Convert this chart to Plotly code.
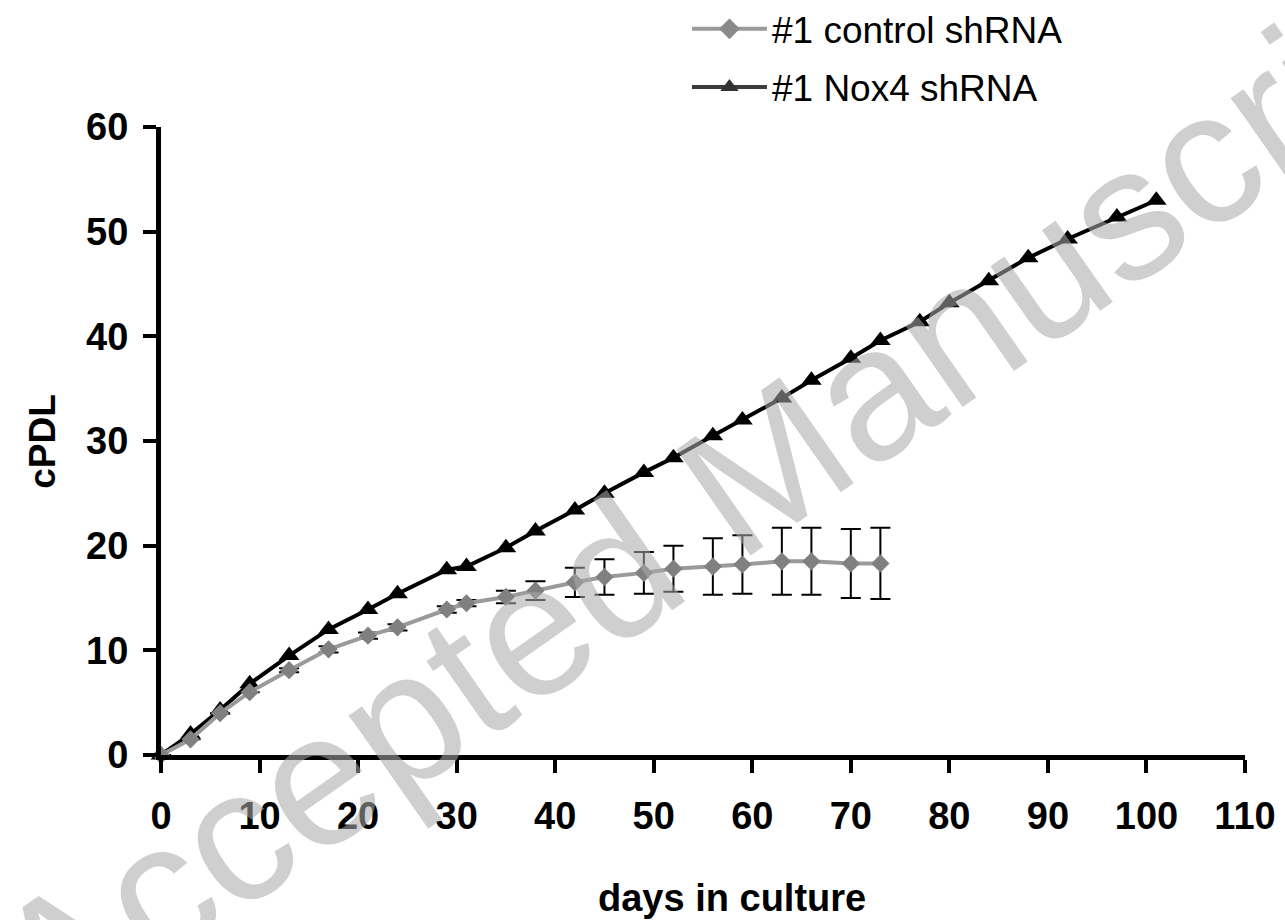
import plotly.graph_objects as go

# ---- data ----
nox4_days = [0, 3, 6, 9, 13, 17, 21, 24, 29, 31, 35, 38, 42, 45, 49, 52, 56, 59, 63, 66, 70, 73, 77, 80, 84, 88, 92, 97, 101]
nox4_cpdl = [0, 2.0, 4.3, 6.8, 9.5, 12.0, 13.9, 15.4, 17.7, 18.0, 19.8, 21.4, 23.4, 25.0, 27.0, 28.4, 30.5, 32.0, 34.1, 35.8, 37.9, 39.6, 41.4, 43.2, 45.3, 47.5, 49.3, 51.4, 53.0]

ctrl_days = [0, 3, 6, 9, 13, 17, 21, 24, 29, 31, 35, 38, 42, 45, 49, 52, 56, 59, 63, 66, 70, 73]
ctrl_cpdl = [0, 1.5, 4.0, 6.0, 8.1, 10.1, 11.4, 12.2, 13.9, 14.5, 15.1, 15.7, 16.5, 17.0, 17.4, 17.8, 18.0, 18.2, 18.5, 18.5, 18.3, 18.3]
ctrl_err = [0, 0, 0, 0, 0.2, 0.3, 0.3, 0.3, 0.3, 0.3, 0.6, 0.9, 1.4, 1.7, 2.0, 2.2, 2.7, 2.8, 3.2, 3.2, 3.3, 3.4]

x_ticks = [0, 10, 20, 30, 40, 50, 60, 70, 80, 90, 100, 110]
y_ticks = [0, 10, 20, 30, 40, 50, 60]

label_ctrl = "#1 control shRNA"
label_nox4 = "#1 Nox4 shRNA"
x_title = "days in culture"
y_title = "cPDL"
watermark = "Accepted Manuscript"

FONT = "Liberation Sans, Arial, sans-serif"

fig = go.Figure()

fig.add_trace(go.Scatter(
    x=nox4_days, y=nox4_cpdl, mode="lines+markers", showlegend=False,
    line=dict(color="black", width=4),
    marker=dict(symbol="triangle-up", size=18, color="black"),
    cliponaxis=False,
))
fig.add_trace(go.Scatter(
    x=ctrl_days, y=ctrl_cpdl, mode="lines+markers", showlegend=False,
    line=dict(color="#9a9a9a", width=4),
    marker=dict(symbol="diamond", size=14, color="#808080"),
    error_y=dict(type="data", array=ctrl_err, visible=True, color="black", thickness=2, width=10),
    cliponaxis=False,
))

# legend entries
fig.add_trace(go.Scatter(
    x=[None], y=[None], mode="lines+markers", name=label_ctrl, legendgroup="a",
    line=dict(color="#9a9a9a", width=4),
    marker=dict(symbol="diamond", size=16, color="#8a8a8a"),
))
fig.add_trace(go.Scatter(
    x=[None], y=[None], mode="lines+markers", name=label_nox4, legendgroup="b",
    line=dict(color="#3c3c3c", width=4),
    marker=dict(symbol="triangle-up", size=16, color="#333333"),
))

axis_common = dict(
    showline=True, linecolor="black", linewidth=5,
    ticks="outside", ticklen=13, tickwidth=4, tickcolor="black",
    showgrid=False, zeroline=False, automargin=False,
    tickfont=dict(family=FONT, size=38, color="black", weight="bold"),
)

fig.update_xaxes(
    range=[0, 110], tickvals=x_ticks, ticktext=[str(v) for v in x_ticks],
    ticklabelstandoff=10,
    **axis_common,
)
fig.update_yaxes(
    range=[0, 60], tickvals=y_ticks, ticktext=[str(v) for v in y_ticks],
    ticklabelstandoff=7,
    **axis_common,
)

fig.update_layout(
    width=1285, height=920,
    margin=dict(l=161, r=40, t=127, b=165, autoexpand=False),
    paper_bgcolor="white", plot_bgcolor="white",
    font=dict(family=FONT, color="black"),
    legend=dict(
        x=0.4852, y=1.205, xanchor="left", yanchor="top",
        font=dict(family=FONT, size=37, color="black"),
        traceorder="grouped", tracegroupgap=7,
        bgcolor="rgba(0,0,0,0)", itemwidth=75,
    ),
    annotations=[
        dict(text=x_title, xref="paper", yref="paper", x=0.527, y=-0.228,
             xanchor="center", yanchor="middle", showarrow=False,
             font=dict(family=FONT, size=38, color="black", weight="bold")),
        dict(text=y_title, xref="paper", yref="paper", x=-0.11, y=0.5,
             xanchor="center", yanchor="middle", showarrow=False, textangle=-90,
             font=dict(family=FONT, size=37, color="black", weight="bold")),
        dict(text=watermark, xref="paper", yref="paper",
             x=0.5295, y=0.4268, xanchor="center", yanchor="middle",
             textangle=-35, showarrow=False,
             font=dict(family=FONT, size=188, color="rgba(170,170,170,0.56)")),
    ],
)

fig.write_html("out.html")
